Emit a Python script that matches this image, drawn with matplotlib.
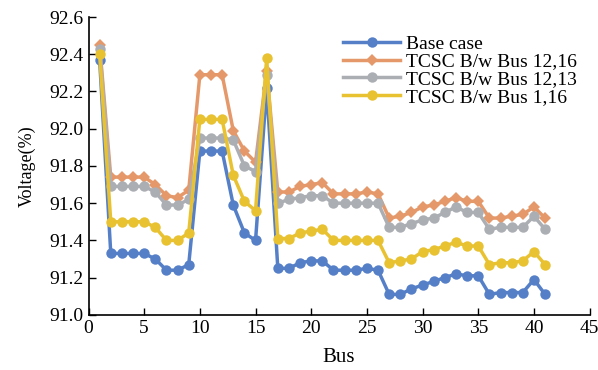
import numpy as np
import matplotlib
matplotlib.use("Agg")
import matplotlib.pyplot as plt

plt.rcParams['font.family'] = ['Liberation Serif', 'DejaVu Serif']

bus = list(range(1, 42))

base_case = [92.37, 91.33, 91.33, 91.33, 91.33, 91.30, 91.24, 91.24, 91.27, 91.88,
             91.88, 91.88, 91.59, 91.44, 91.40, 92.22, 91.25, 91.25, 91.28, 91.29,
             91.29, 91.24, 91.24, 91.24, 91.25, 91.24, 91.11, 91.11, 91.14, 91.16,
             91.18, 91.20, 91.22, 91.21, 91.21, 91.11, 91.12, 91.12, 91.12, 91.19,
             91.11]

tcsc_12_16 = [92.45, 91.74, 91.74, 91.74, 91.74, 91.70, 91.64, 91.63, 91.67, 92.29,
              92.29, 92.29, 91.99, 91.88, 91.82, 92.31, 91.66, 91.66, 91.69, 91.70,
              91.71, 91.65, 91.65, 91.65, 91.66, 91.65, 91.52, 91.53, 91.55, 91.58,
              91.59, 91.61, 91.63, 91.61, 91.61, 91.52, 91.52, 91.53, 91.54, 91.58,
              91.52]

tcsc_12_13 = [92.43, 91.69, 91.69, 91.69, 91.69, 91.66, 91.59, 91.59, 91.62, 91.95,
              91.95, 91.95, 91.94, 91.80, 91.77, 92.29, 91.60, 91.62, 91.63, 91.64,
              91.64, 91.60, 91.60, 91.60, 91.60, 91.60, 91.47, 91.47, 91.49, 91.51,
              91.52, 91.55, 91.58, 91.55, 91.55, 91.46, 91.47, 91.47, 91.47, 91.53,
              91.46]

tcsc_1_16 = [92.40, 91.50, 91.50, 91.50, 91.50, 91.47, 91.40, 91.40, 91.44, 92.05,
             92.05, 92.05, 91.75, 91.61, 91.56, 92.38, 91.41, 91.41, 91.44, 91.45,
             91.46, 91.40, 91.40, 91.40, 91.40, 91.40, 91.28, 91.29, 91.30, 91.34,
             91.35, 91.37, 91.39, 91.37, 91.37, 91.27, 91.28, 91.28, 91.29, 91.34,
             91.27]

labels = ["Base case", "TCSC B/w Bus 12,16", "TCSC B/w Bus 12,13", "TCSC B/w Bus 1,16"]
colors = ["#5580C8", "#E5996A", "#ABAEB3", "#E9C232"]
markers = ["o", "D", "o", "o"]
msizes = [7.5, 6, 7.5, 7.5]

x_ticks = [0, 5, 10, 15, 20, 25, 30, 35, 40, 45]
y_ticks = [91.0, 91.2, 91.4, 91.6, 91.8, 92.0, 92.2, 92.4, 92.6]

fig = plt.figure(figsize=(5.98, 3.70), dpi=100)
ax = fig.add_axes([0.148, 0.149, 0.838, 0.805])

series = [base_case, tcsc_12_16, tcsc_12_13, tcsc_1_16]
for vals, lab, col, mk, ms in zip(series, labels, colors, markers, msizes):
    ax.plot(bus, vals, color=col, marker=mk, markersize=ms, linewidth=2.5,
            label=lab, markeredgewidth=0)

ax.set_xlim(0, 45)
ax.set_ylim(91.0, 92.6)
ax.set_xticks(x_ticks)
ax.set_yticks(y_ticks)
ax.set_yticklabels([f"{v:.1f}" for v in y_ticks])
ax.tick_params(direction='in', labelsize=14, length=5, width=1)
for side in ("top", "right"):
    ax.spines[side].set_visible(False)
for side in ("left", "bottom"):
    ax.spines[side].set_linewidth(1.2)

ax.set_xlabel("Bus", fontsize=15, labelpad=8)
ax.set_ylabel("Voltage(%)", fontsize=13, labelpad=10)

ax.legend(loc='upper left', bbox_to_anchor=(0.493, 0.965), frameon=False,
          fontsize=14, labelspacing=0.0, handlelength=2.9, handletextpad=0.3,
          borderaxespad=0)

fig.savefig("out.png", dpi=100)
